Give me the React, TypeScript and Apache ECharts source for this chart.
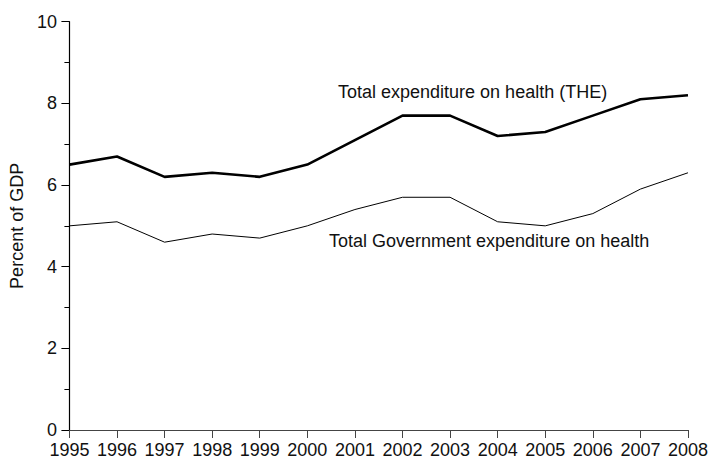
import React, { useEffect, useRef } from "react";
import * as echarts from "echarts";

const years = ["1995","1996","1997","1998","1999","2000","2001","2002","2003","2004","2005","2006","2007","2008"];
const totalHealth = [6.5, 6.7, 6.2, 6.3, 6.2, 6.5, 7.1, 7.7, 7.7, 7.2, 7.3, 7.7, 8.1, 8.2];
const govHealth = [5.0, 5.1, 4.6, 4.8, 4.7, 5.0, 5.4, 5.7, 5.7, 5.1, 5.0, 5.3, 5.9, 6.3];
const yTicks = { min: 0, max: 10, interval: 2 };
const labelTotal = "Total expenditure on health (THE)";
const labelGov = "Total Government expenditure on health";
const yName = "Percent of GDP";

const FONT = "'Liberation Sans', Arial, Helvetica, sans-serif";

export default function App() {
  const ref = useRef<HTMLDivElement>(null);
  useEffect(() => {
    if (!ref.current) return;
    const chart = echarts.init(ref.current, undefined, { renderer: "svg" });
    chart.setOption({
      animation: false,
      backgroundColor: "#ffffff",
      grid: { left: 65.5, right: 19.7, top: 21.7, bottom: 29, containLabel: false },
      xAxis: {
        type: "category",
        data: years,
        boundaryGap: false,
        axisLine: { show: true, lineStyle: { color: "#444", width: 1.2 } },
        axisTick: { show: true, alignWithLabel: true, length: 8, lineStyle: { color: "#444", width: 1 } },
        axisLabel: { color: "#111", fontSize: 18, fontFamily: FONT, margin: 11, interval: 0 },
        splitLine: { show: false },
      },
      yAxis: {
        type: "value",
        min: yTicks.min,
        max: yTicks.max,
        interval: yTicks.interval,
        name: yName,
        nameLocation: "middle",
        nameGap: 40,
        nameTextStyle: { color: "#111", fontSize: 18, fontFamily: FONT },
        axisLine: { show: true, lineStyle: { color: "#000", width: 1.2 } },
        axisTick: { show: true, length: 8, lineStyle: { color: "#000", width: 1 } },
        minorTick: { show: true, splitNumber: 2, length: 5, lineStyle: { color: "#000", width: 1 } },
        axisLabel: { color: "#111", fontSize: 18, fontFamily: FONT, margin: 12.5 },
        splitLine: { show: false },
      },
      series: [
        {
          type: "line",
          data: totalHealth,
          symbol: "none",
          lineStyle: { color: "#000", width: 2.6 },
        },
        {
          type: "line",
          data: govHealth,
          symbol: "none",
          lineStyle: { color: "#000", width: 1 },
        },
      ],
      graphic: [
        {
          type: "text",
          left: 338,
          top: 83,
          style: { text: labelTotal, fill: "#111", fontSize: 18, fontFamily: FONT },
        },
        {
          type: "text",
          left: 329,
          top: 232,
          style: { text: labelGov, fill: "#111", fontSize: 18, fontFamily: FONT },
        },
      ],
    });
    return () => chart.dispose();
  }, []);
  return <div ref={ref} style={{ position: "fixed", left: 0, top: 0, width: 711, height: 459 }} />;
}
